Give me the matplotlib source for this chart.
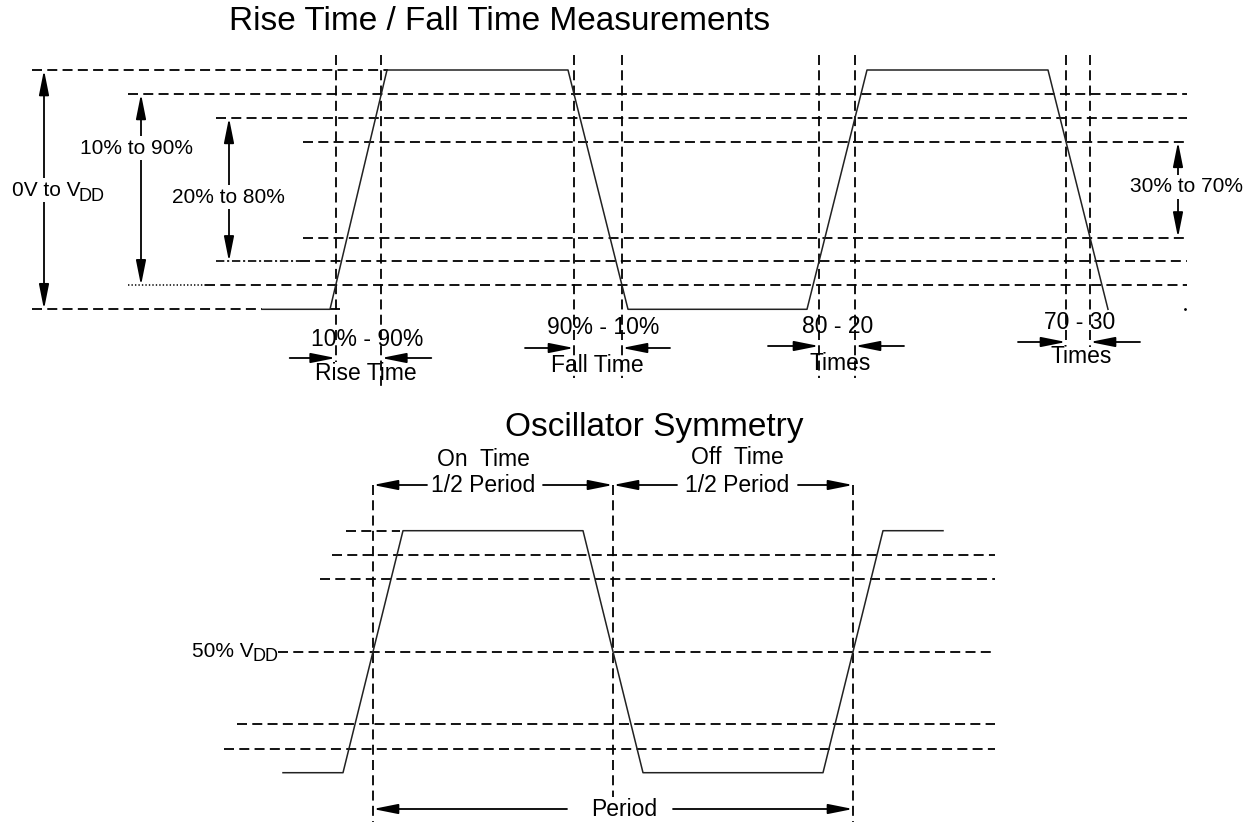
import numpy as np
import matplotlib
matplotlib.use("Agg")
import matplotlib.pyplot as plt

plt.rcParams['font.family'] = ['Liberation Sans', 'DejaVu Sans']
plt.rcParams['lines.scale_dashes'] = False

# ---------------- data ----------------
# Top diagram: waveform breakpoints (time, % of VDD)
top_title = "Rise Time / Fall Time Measurements"
top_wave_t = [262, 330, 387, 568, 628, 807, 867, 1048, 1108]
top_wave_v = [0, 0, 100, 100, 0, 0, 100, 100, 0]
top_levels = [0, 10, 20, 30, 70, 80, 90, 100]
# measurement: edge start index in waveform, level pair, labels
top_meas_edges = [1, 3, 5, 7]
top_meas_levels = [(10, 90), (90, 10), (20, 80), (70, 30)]
top_meas_label1 = ["10% - 90%", "90% - 10%", "80 - 20", "70 - 30"]
top_meas_label2 = ["Rise Time", "Fall Time", "Times", "Times"]
range_labels = [("0V to V", "DD"), ("10% to 90%", ""), ("20% to 80%", ""), ("30% to 70%", "")]
range_levels = [(0, 100), (10, 90), (20, 80), (30, 70)]

# Bottom diagram
bot_title = "Oscillator Symmetry"
bot_wave_t = [283, 343, 403, 583, 643, 823, 883, 943]
bot_wave_v = [0, 0, 100, 100, 0, 0, 100, 100]
bot_levels = [10, 20, 50, 80, 90, 100]
bot_half_label1 = ["On  Time", "Off  Time"]
bot_half_label2 = ["1/2 Period", "1/2 Period"]
bot_mid_label = ("50% V", "DD")
bot_period_label = "Period"

# ---------------- layout helpers ----------------
W, H = 1257, 822
fig = plt.figure(figsize=(W / 100, H / 100), dpi=100)
ax = fig.add_axes([0, 0, 1, 1])
ax.set_xlim(0, W)
ax.set_ylim(H, 0)
ax.axis('off')
renderer = fig.canvas.get_renderer()

TOP_Y0, TOP_Y100 = 309.3, 70.0
BOT_Y0, BOT_Y100 = 772.7, 530.7


def ytop(v):
    return TOP_Y0 + (TOP_Y100 - TOP_Y0) * np.asarray(v) / 100.0


def ybot(v):
    return BOT_Y0 + (BOT_Y100 - BOT_Y0) * np.asarray(v) / 100.0


DASH = (0, (7.2, 3.8))
dkw = dict(color='black', lw=1.3, linestyle=DASH, zorder=1)
wkw = dict(color='#222222', lw=1.1, zorder=3)
HEAD = '-|>,head_length=1.5,head_width=0.3'
HEAD2 = '<|-|>,head_length=1.5,head_width=0.3'


def arrow(x0, y0, x1, y1, style=HEAD, lw=1.3):
    ax.annotate('', xy=(x1, y1), xytext=(x0, y0),
                arrowprops=dict(arrowstyle=style, color='black', lw=lw,
                                shrinkA=0, shrinkB=0, mutation_scale=10),
                zorder=4)


def crossing(t, v, i, level):
    return t[i] + (t[i + 1] - t[i]) * (level - v[i]) / (v[i + 1] - v[i])


def data_extent(t):
    bb = t.get_window_extent(renderer)
    inv = ax.transData.inverted()
    (x0, _), (x1, _) = inv.transform([[bb.x0, bb.y0], [bb.x1, bb.y1]])
    return x0, x1


# ---------------- top diagram ----------------
ax.text(500, 22, top_title, fontsize=24, ha='center', va='center')

top_level_start = {100: 32, 90: 128, 80: 216, 70: 303, 30: 303, 20: 216, 10: 128, 0: 32}
for lv in top_levels:
    y = ytop(lv)
    x0 = top_level_start[lv]
    if lv == 100:
        ax.plot([x0, 388], [y, y], **dkw)
    elif lv == 0:
        ax.plot([x0, 262], [y, y], **dkw)
        ax.plot([330, 342], [y, y], **dkw)
    elif lv == 10:
        ax.plot([x0, 205], [y, y], color='black', lw=1.1, linestyle=(0, (1, 1.5)), zorder=1)
        ax.plot([205, 1187], [y, y], **dkw)
    elif lv == 20:
        ax.plot([x0, 300], [y, y], color='black', lw=1.2, linestyle=(0, (6, 2, 1.5, 2)), zorder=1)
        ax.plot([300, 1187], [y, y], **dkw)
    else:
        ax.plot([x0, 1187], [y, y], **dkw)
ax.plot([1185], [TOP_Y0], marker='.', markersize=2, color='black')

ax.plot(top_wave_t, ytop(top_wave_v), **wkw)

vert_bottom = [(362, 388), (378, 378), (378, 378), (345, 347)]
label1_x = [367, 603, 838, 1080]
label2_x = [366, 597, 840, 1081]
label1_y = [339, 327, 326, 322]
label2_y = [373, 365, 363, 356]
arrow_y = [358, 348, 346, 342]
arrow_len = [(46, 50), (49, 48), (51, 49), (48, 50)]
for k, (ei, (la, lb)) in enumerate(zip(top_meas_edges, top_meas_levels)):
    xa = crossing(top_wave_t, top_wave_v, ei, la)
    xb = crossing(top_wave_t, top_wave_v, ei, lb)
    xl, xr = min(xa, xb), max(xa, xb)
    ax.plot([xl, xl], [55, vert_bottom[k][0]], **dkw)
    ax.plot([xr, xr], [55, vert_bottom[k][1]], **dkw)
    ax.text(label1_x[k], label1_y[k], top_meas_label1[k], fontsize=16.5, ha='center', va='center', zorder=2)
    ax.text(label2_x[k], label2_y[k], top_meas_label2[k], fontsize=16.5, ha='center', va='center', zorder=2)
    arrow(xl - arrow_len[k][0], arrow_y[k], xl, arrow_y[k])
    arrow(xr + arrow_len[k][1], arrow_y[k], xr, arrow_y[k])

range_x = [44, 141, 229, 1178]
range_text_x = [12, 137, 228, 1187]
range_text_y = [190, 148, 197, 187]
for k, ((lo, hi), (lab, sub)) in enumerate(zip(range_levels, range_labels)):
    arrow(range_x[k], ytop(lo), range_x[k], ytop(hi), style=HEAD2)
    ha = 'left' if k == 0 else 'center'
    t = ax.text(range_text_x[k], range_text_y[k], lab, fontsize=15, ha=ha, va='center',
                zorder=5, bbox=dict(facecolor='white', edgecolor='none', pad=1.5))
    if sub:
        _, xe = data_extent(t)
        ax.text(xe - 1.5, range_text_y[k] + 6, sub, fontsize=13, ha='left', va='center', zorder=5)

# ---------------- bottom diagram ----------------
ax.text(654, 427, bot_title, fontsize=24, ha='center', va='center')

bot_level_start = {100: 346, 90: 332, 80: 320, 50: 278, 20: 237, 10: 224}
for lv in bot_levels:
    y = ybot(lv)
    x1 = 400 if lv == 100 else 995
    ax.plot([bot_level_start[lv], x1], [y, y], **dkw)

ax.plot(bot_wave_t, ybot(bot_wave_v), **wkw)

x50 = [crossing(bot_wave_t, bot_wave_v, i, 50) for i in (1, 3, 5)]
vb = [822, 797, 822]
for x, yb in zip(x50, vb):
    ax.plot([x, x], [485, yb], **dkw)

ts = ax.text(278, ybot(50) + 5, bot_mid_label[1], fontsize=13, ha='right', va='center', zorder=5)
xs, _ = data_extent(ts)
ax.text(xs + 2, ybot(50), bot_mid_label[0], fontsize=15, ha='right', va='center', zorder=5)

HY = 485
half_txt_x = [483, 737]
half_txt_y1 = [459, 457]
half_arrow_start = [(427, 543), (677, 798)]
for k in range(2):
    xl, xr = x50[k], x50[k + 1]
    ax.text(half_txt_x[k], half_txt_y1[k], bot_half_label1[k], fontsize=16.5, ha='center', va='center')
    ax.text(half_txt_x[k], HY, bot_half_label2[k], fontsize=16.5, ha='center', va='center')
    arrow(half_arrow_start[k][0], HY, xl, HY)
    arrow(half_arrow_start[k][1], HY, xr, HY)

PY = 809
ax.text(624, PY, bot_period_label, fontsize=16.5, ha='center', va='center')
arrow(567, PY, x50[0], PY)
arrow(673, PY, x50[2], PY)

fig.savefig('out.png', dpi=100)
